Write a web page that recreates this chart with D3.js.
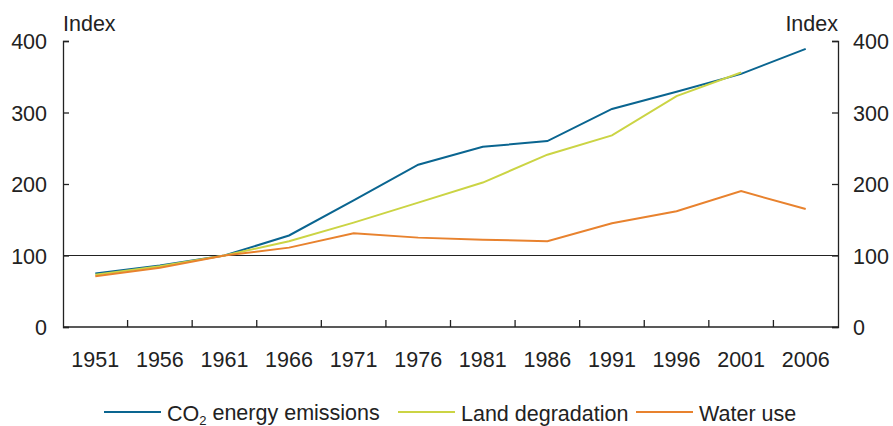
<!DOCTYPE html>
<html>
<head>
<meta charset="utf-8">
<script src="https://cdn.jsdelivr.net/npm/d3@7"></script>
<style>
  body { margin: 0; background: #fff; }
  text { font-family: "Liberation Sans", Arial, sans-serif; fill: #222; }
</style>
</head>
<body>
<svg id="chart" width="893" height="426"></svg>
<script>
// years along the bottom
const years = ['1951', '1956', '1961', '1966', '1971', '1976', '1981', '1986', '1991', '1996', '2001', '2006'];
// index values, 1961 = 100
const co2 = [75, 86, 100, 128, 177, 227, 252, 260, 305, 329, 354, 389];
const land = [73, 85, 100, 120, 146, 174, 202, 241, 268, 323, 356, null];
const water = [71, 83, 100, 111, 131, 125, 122, 120, 145, 162, 190, 165];
const yTicks = [0, 100, 200, 300, 400];

const seriesNames = ['CO2 energy emissions', 'Land degradation', 'Water use'];
const colours = ['#0a6590', '#cbd444', '#e8822e'];

const svg = d3.select('#chart');
const plotLeft = 63, plotRight = 838, plotTop = 41, plotBottom = 327;
const fontSize = '21.5px';

const x = d3.scaleBand().domain(years).range([plotLeft, plotRight]);
const y = d3.scaleLinear().domain([0, 400]).range([plotBottom, plotTop]);

// axes
const yLeft = svg.append('g')
  .attr('transform', `translate(${plotLeft},0)`)
  .call(d3.axisRight(y).tickValues(yTicks).tickSize(6).tickFormat(''));
const yRight = svg.append('g')
  .attr('transform', `translate(${plotRight},0)`)
  .call(d3.axisLeft(y).tickValues(yTicks).tickSize(6).tickFormat(''));
[yLeft, yRight].forEach(a => {
  a.select('.domain').attr('stroke', '#222').attr('stroke-width', 1.3);
  a.selectAll('.tick line').attr('stroke', '#222').attr('stroke-width', 1.3);
});

// tick labels
svg.selectAll('.ylab-l').data(yTicks).enter().append('text')
  .attr('x', 47).attr('y', d => y(d)).attr('dy', '0.38em')
  .attr('text-anchor', 'end').style('font-size', fontSize).text(d => d);
svg.selectAll('.ylab-r').data(yTicks).enter().append('text')
  .attr('x', 853).attr('y', d => y(d)).attr('dy', '0.38em')
  .attr('text-anchor', 'start').style('font-size', fontSize).text(d => d);

svg.append('text').attr('x', 63).attr('y', 31).style('font-size', fontSize).text('Index');
svg.append('text').attr('x', 838).attr('y', 31).attr('text-anchor', 'end').style('font-size', fontSize).text('Index');

// x axis with ticks between categories
const xAxis = svg.append('g');
xAxis.append('line')
  .attr('x1', plotLeft).attr('x2', plotRight).attr('y1', plotBottom).attr('y2', plotBottom)
  .attr('stroke', '#222').attr('stroke-width', 1.3);
xAxis.selectAll('.xt').data(years.slice(1)).enter().append('line')
  .attr('x1', d => x(d)).attr('x2', d => x(d))
  .attr('y1', plotBottom).attr('y2', plotBottom - 7)
  .attr('stroke', '#222').attr('stroke-width', 1.3);
svg.selectAll('.xlab').data(years).enter().append('text')
  .attr('x', d => x(d) + x.bandwidth() / 2).attr('y', 359).attr('dy', '0.38em')
  .attr('text-anchor', 'middle').style('font-size', fontSize).text(d => d);

// reference line at 100
svg.append('line')
  .attr('x1', plotLeft).attr('x2', plotRight).attr('y1', y(100)).attr('y2', y(100))
  .attr('stroke', '#222').attr('stroke-width', 1.2);

// the lines
const line = d3.line()
  .defined(d => d != null)
  .x((d, i) => x(years[i]) + x.bandwidth() / 2)
  .y(d => y(d));

[co2, land, water].forEach((vals, i) => {
  svg.append('path')
    .datum(vals)
    .attr('d', line)
    .attr('fill', 'none')
    .attr('stroke', colours[i])
    .attr('stroke-width', 2);
});

// legend
const legendX = [104, 398, 636];
const legend = svg.append('g');
seriesNames.forEach((name, i) => {
  legend.append('line')
    .attr('x1', legendX[i]).attr('x2', legendX[i] + 57)
    .attr('y1', 412).attr('y2', 412)
    .attr('stroke', colours[i]).attr('stroke-width', 2);
  const t = legend.append('text')
    .attr('x', legendX[i] + 63).attr('y', 412).attr('dy', '0.4em')
    .style('font-size', fontSize);
  if (i === 0) {
    t.append('tspan').text('CO');
    t.append('tspan').attr('dy', '0.3em').style('font-size', '13px').text('2');
    t.append('tspan').attr('dy', '-0.2em').text(' energy emissions');
  } else {
    t.text(name);
  }
});
</script>
</body>
</html>
